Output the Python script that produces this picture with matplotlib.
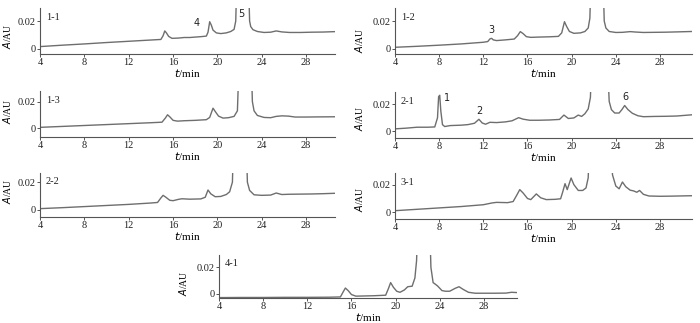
import matplotlib
matplotlib.use("Agg")
import matplotlib.pyplot as plt

plt.rcParams['font.family'] = ['Liberation Serif', 'DejaVu Serif']

W, H = 700, 323

# ---------------- data ----------------
t_11 = [4, 6, 8, 10, 12, 14, 14.9, 15.1, 15.25, 15.4, 15.6, 15.9, 16.5, 17, 17.5, 18, 18.5, 19.0, 19.15, 19.3, 19.45, 19.6, 19.9, 20.3, 20.8, 21.2, 21.5, 21.65, 21.75,
        22.8, 22.9, 23.0, 23.2, 23.6, 24.2, 24.8, 25.3, 25.8, 26.5, 27.5, 28.5, 29.5, 30.6]
a_11 = [0.0017, 0.0027, 0.0036, 0.0046, 0.0055, 0.0064, 0.0068, 0.0095, 0.0129, 0.0115, 0.0090, 0.0076, 0.0078, 0.0082, 0.0082, 0.0085, 0.0088, 0.0092, 0.0120, 0.0195, 0.0170, 0.0135, 0.0115, 0.0110, 0.0115, 0.0125, 0.0140, 0.0200, 0.0500,
        0.0500, 0.0200, 0.0160, 0.0138, 0.0125, 0.0118, 0.0120, 0.0129, 0.0122, 0.0118, 0.0118, 0.0120, 0.0121, 0.0124]

t_12 = [4, 6, 8, 10, 12, 12.4, 12.6, 12.75, 12.9, 13.2, 14, 14.8, 15.1, 15.35, 15.6, 15.9, 16.3, 17, 18, 18.8, 19.1, 19.35, 19.55, 19.8, 20.2, 20.8, 21.2, 21.5, 21.65, 21.75,
        22.85, 22.95, 23.1, 23.4, 24.0, 24.6, 25.3, 25.8, 26.5, 27.5, 28.5, 29.5, 30.9]
a_12 = [0.0012, 0.0019, 0.0027, 0.0036, 0.0048, 0.0053, 0.0072, 0.0076, 0.0065, 0.0060, 0.0065, 0.0071, 0.0095, 0.0124, 0.0110, 0.0088, 0.0083, 0.0085, 0.0087, 0.0090, 0.0115, 0.0195, 0.0160, 0.0125, 0.0112, 0.0115, 0.0125, 0.0150, 0.0220, 0.0500,
        0.0500, 0.0200, 0.0150, 0.0125, 0.0118, 0.0119, 0.0124, 0.0121, 0.0118, 0.0119, 0.0120, 0.0122, 0.0125]

t_13 = [4, 6, 8, 10, 12, 14, 15.0, 15.3, 15.5, 15.7, 16.0, 16.4, 17, 18, 19.0, 19.3, 19.6, 19.8, 20.1, 20.5, 21.0, 21.5, 21.8, 21.95,
        23.05, 23.15, 23.3, 23.6, 24.2, 24.8, 25.3, 25.8, 26.4, 27.0, 28, 29, 30.6]
a_13 = [0.0005, 0.0012, 0.0019, 0.0026, 0.0033, 0.0040, 0.0044, 0.0075, 0.0100, 0.0085, 0.0058, 0.0052, 0.0055, 0.0058, 0.0063, 0.0080, 0.0150, 0.0125, 0.0090, 0.0075, 0.0078, 0.0088, 0.0130, 0.0500,
        0.0500, 0.0200, 0.0130, 0.0095, 0.0080, 0.0078, 0.0088, 0.0092, 0.0090, 0.0083, 0.0083, 0.0084, 0.0085]

t_21 = [4, 5, 6, 7, 7.6, 7.85, 7.95, 8.05, 8.15, 8.3, 8.5, 9, 10, 10.6, 11.2, 11.6, 11.9, 12.2, 12.6, 13.2, 14.0, 14.6, 15.2, 15.6, 16.2, 17, 18, 18.9, 19.3, 19.7, 20.2, 20.6, 20.9, 21.2, 21.5, 21.7, 21.8,
        23.25, 23.4, 23.6, 23.9, 24.3, 24.55, 24.8, 25.1, 25.5, 26.0, 26.5, 27.5, 28.5, 29.5, 30.9]
a_21 = [0.0019, 0.0024, 0.0031, 0.0031, 0.0033, 0.0100, 0.0255, 0.0265, 0.0150, 0.0050, 0.0036, 0.0043, 0.0046, 0.0050, 0.0060, 0.0089, 0.0062, 0.0053, 0.0067, 0.0065, 0.0070, 0.0078, 0.0101, 0.0090, 0.0082, 0.0082, 0.0084, 0.0088, 0.0120, 0.0095, 0.0099, 0.0120, 0.0110, 0.0130, 0.0165, 0.0250, 0.0500,
        0.0500, 0.0220, 0.0160, 0.0135, 0.0135, 0.0160, 0.0190, 0.0160, 0.0133, 0.0115, 0.0108, 0.0110, 0.0111, 0.0113, 0.0122]

t_22 = [4, 6, 8, 10, 12, 14, 14.6, 14.9, 15.1, 15.35, 15.7, 16.0, 16.5, 16.8, 17.5, 18.5, 18.9, 19.15, 19.4, 19.8, 20.3, 20.8, 21.1, 21.35, 21.45,
        22.6, 22.7, 22.9, 23.3, 24.0, 24.8, 25.3, 25.8, 26.5, 27.5, 28.5, 29.5, 30.6]
a_22 = [0.0007, 0.0014, 0.0022, 0.0030, 0.0038, 0.0048, 0.0052, 0.0085, 0.0104, 0.0090, 0.0068, 0.0065, 0.0075, 0.0079, 0.0076, 0.0078, 0.0090, 0.0143, 0.0115, 0.0094, 0.0096, 0.0110, 0.0130, 0.0200, 0.0500,
        0.0500, 0.0200, 0.0140, 0.0108, 0.0104, 0.0106, 0.0121, 0.0110, 0.0112, 0.0113, 0.0114, 0.0116, 0.0119]

t_31 = [4, 6, 8, 10, 12, 12.8, 13.2, 14.2, 14.7, 15.0, 15.3, 15.6, 16.0, 16.3, 16.8, 17.2, 17.7, 18.5, 19.0, 19.2, 19.4, 19.6, 19.75, 19.95, 20.2, 20.6, 21.0, 21.3, 21.5, 21.6,
        23.55, 23.7, 24.0, 24.3, 24.6, 24.9, 25.3, 25.6, 25.9, 26.15, 26.5, 27.0, 28.0, 29.0, 30.9]
a_31 = [0.0012, 0.0022, 0.0032, 0.0042, 0.0055, 0.0068, 0.0072, 0.0070, 0.0078, 0.0120, 0.0164, 0.0140, 0.0100, 0.0092, 0.0133, 0.0105, 0.0092, 0.0094, 0.0098, 0.0150, 0.0207, 0.0164, 0.0200, 0.0248, 0.0200, 0.0158, 0.0158, 0.0176, 0.0250, 0.0500,
        0.0500, 0.0270, 0.0190, 0.0170, 0.0219, 0.0185, 0.0160, 0.0155, 0.0145, 0.0158, 0.0130, 0.0118, 0.0116, 0.0117, 0.0120]

t_41 = [4, 6, 8, 10, 12, 14, 15.0, 15.25, 15.45, 15.7, 16.0, 16.4, 17, 18, 19.1, 19.35, 19.55, 19.8, 20.1, 20.4, 20.8, 21.1, 21.5, 21.75, 21.9, 22.0,
        23.1, 23.2, 23.4, 23.6, 23.8, 24.2, 24.5, 24.9, 25.4, 25.75, 26.1, 26.6, 27.2, 28, 29, 30, 30.5, 31]
a_41 = [-0.0028, -0.0027, -0.0027, -0.0026, -0.0026, -0.0025, -0.0023, 0.0015, 0.0044, 0.0025, -0.0005, -0.0017, -0.0016, -0.0014, -0.0010, 0.0040, 0.0085, 0.0050, 0.0020, 0.0012, 0.0030, 0.0054, 0.0058, 0.0120, 0.0250, 0.0500,
        0.0500, 0.0200, 0.0085, 0.0073, 0.0060, 0.0025, 0.0020, 0.0020, 0.0042, 0.0054, 0.0035, 0.0012, 0.0005, 0.0005, 0.0005, 0.0006, 0.0012, 0.0010]

x_ticks = [4, 8, 12, 16, 20, 24, 28]
y_ticks = [0, 0.02]
y_ticklabels = ['0', '0.02']

panels = [
    # name, t, a, (left, right, top, bottom) px, xmax, (ymin, ymax), ylabel (x, y), peaks
    ('1-1', t_11, a_11, (40, 335, 8, 54), 30.6, (-0.0036, 0.0293), (-0.093, 0.38), [('4', 18.1, 0.0183), ('5', 22.15, 0.0250)]),
    ('1-2', t_12, a_12, (395, 692, 8, 54), 30.9, (-0.0036, 0.0293), (-0.10, 0.30), [('3', 12.7, 0.0136)]),
    ('1-3', t_13, a_13, (40, 335, 91, 137), 30.6, (-0.0068, 0.0280), (-0.093, 0.56), []),
    ('2-1', t_21, a_21, (395, 692, 92, 138), 30.9, (-0.0048, 0.0289), (-0.10, 0.43), [('1', 8.7, 0.0246), ('2', 11.6, 0.0150), ('6', 24.9, 0.0250)]),
    ('2-2', t_22, a_22, (40, 335, 173, 217), 30.6, (-0.0054, 0.0267), (-0.093, 0.59), []),
    ('3-1', t_31, a_31, (395, 692, 173, 219), 30.9, (-0.0048, 0.0284), (-0.10, 0.43), []),
    ('4-1', t_41, a_41, (219, 517, 255, 298), 31.0, (-0.0031, 0.0293), (-0.10, 0.35), []),
]

fig = plt.figure(figsize=(W / 100, H / 100), dpi=100)
line_col = '#6e6e6e'
axis_col = '#555555'
fs = 7.5

for name, t, a, (l, r, tp, bt), xmax, (y0, y1), (lx, ly), peaks in panels:
    ax = fig.add_axes([l / W, 1 - bt / H, (r - l) / W, (bt - tp) / H])
    ax.plot(t, a, color=line_col, lw=1.0)
    ax.set_xlim(4, xmax)
    ax.set_ylim(y0, y1)
    for s in ('top', 'right'):
        ax.spines[s].set_visible(False)
    for s in ('left', 'bottom'):
        ax.spines[s].set_color(axis_col)
        ax.spines[s].set_linewidth(0.8)
    ax.set_xticks(x_ticks)
    ax.set_yticks(y_ticks)
    ax.set_yticklabels(y_ticklabels)
    ax.tick_params(axis='both', labelsize=fs, length=2, width=0.7, pad=1.0,
                   colors='#222222')
    ax.tick_params(axis='both', color=axis_col)
    ax.set_xlabel('$t$/min', fontsize=fs + 0.5, labelpad=0)
    ax.set_ylabel('$A$/AU', fontsize=fs - 0.5, labelpad=2)
    ax.yaxis.set_label_coords(lx, ly)
    ax.text(0.02, 0.9, name, transform=ax.transAxes, ha='left', va='top',
            fontsize=fs, color='#222222')
    for lab, px, py in peaks:
        ax.text(px, py, lab, ha='center', va='center', fontsize=fs - 0.5,
                color='#222222', family=['DejaVu Sans'])

fig.savefig('out.png', dpi=100)
